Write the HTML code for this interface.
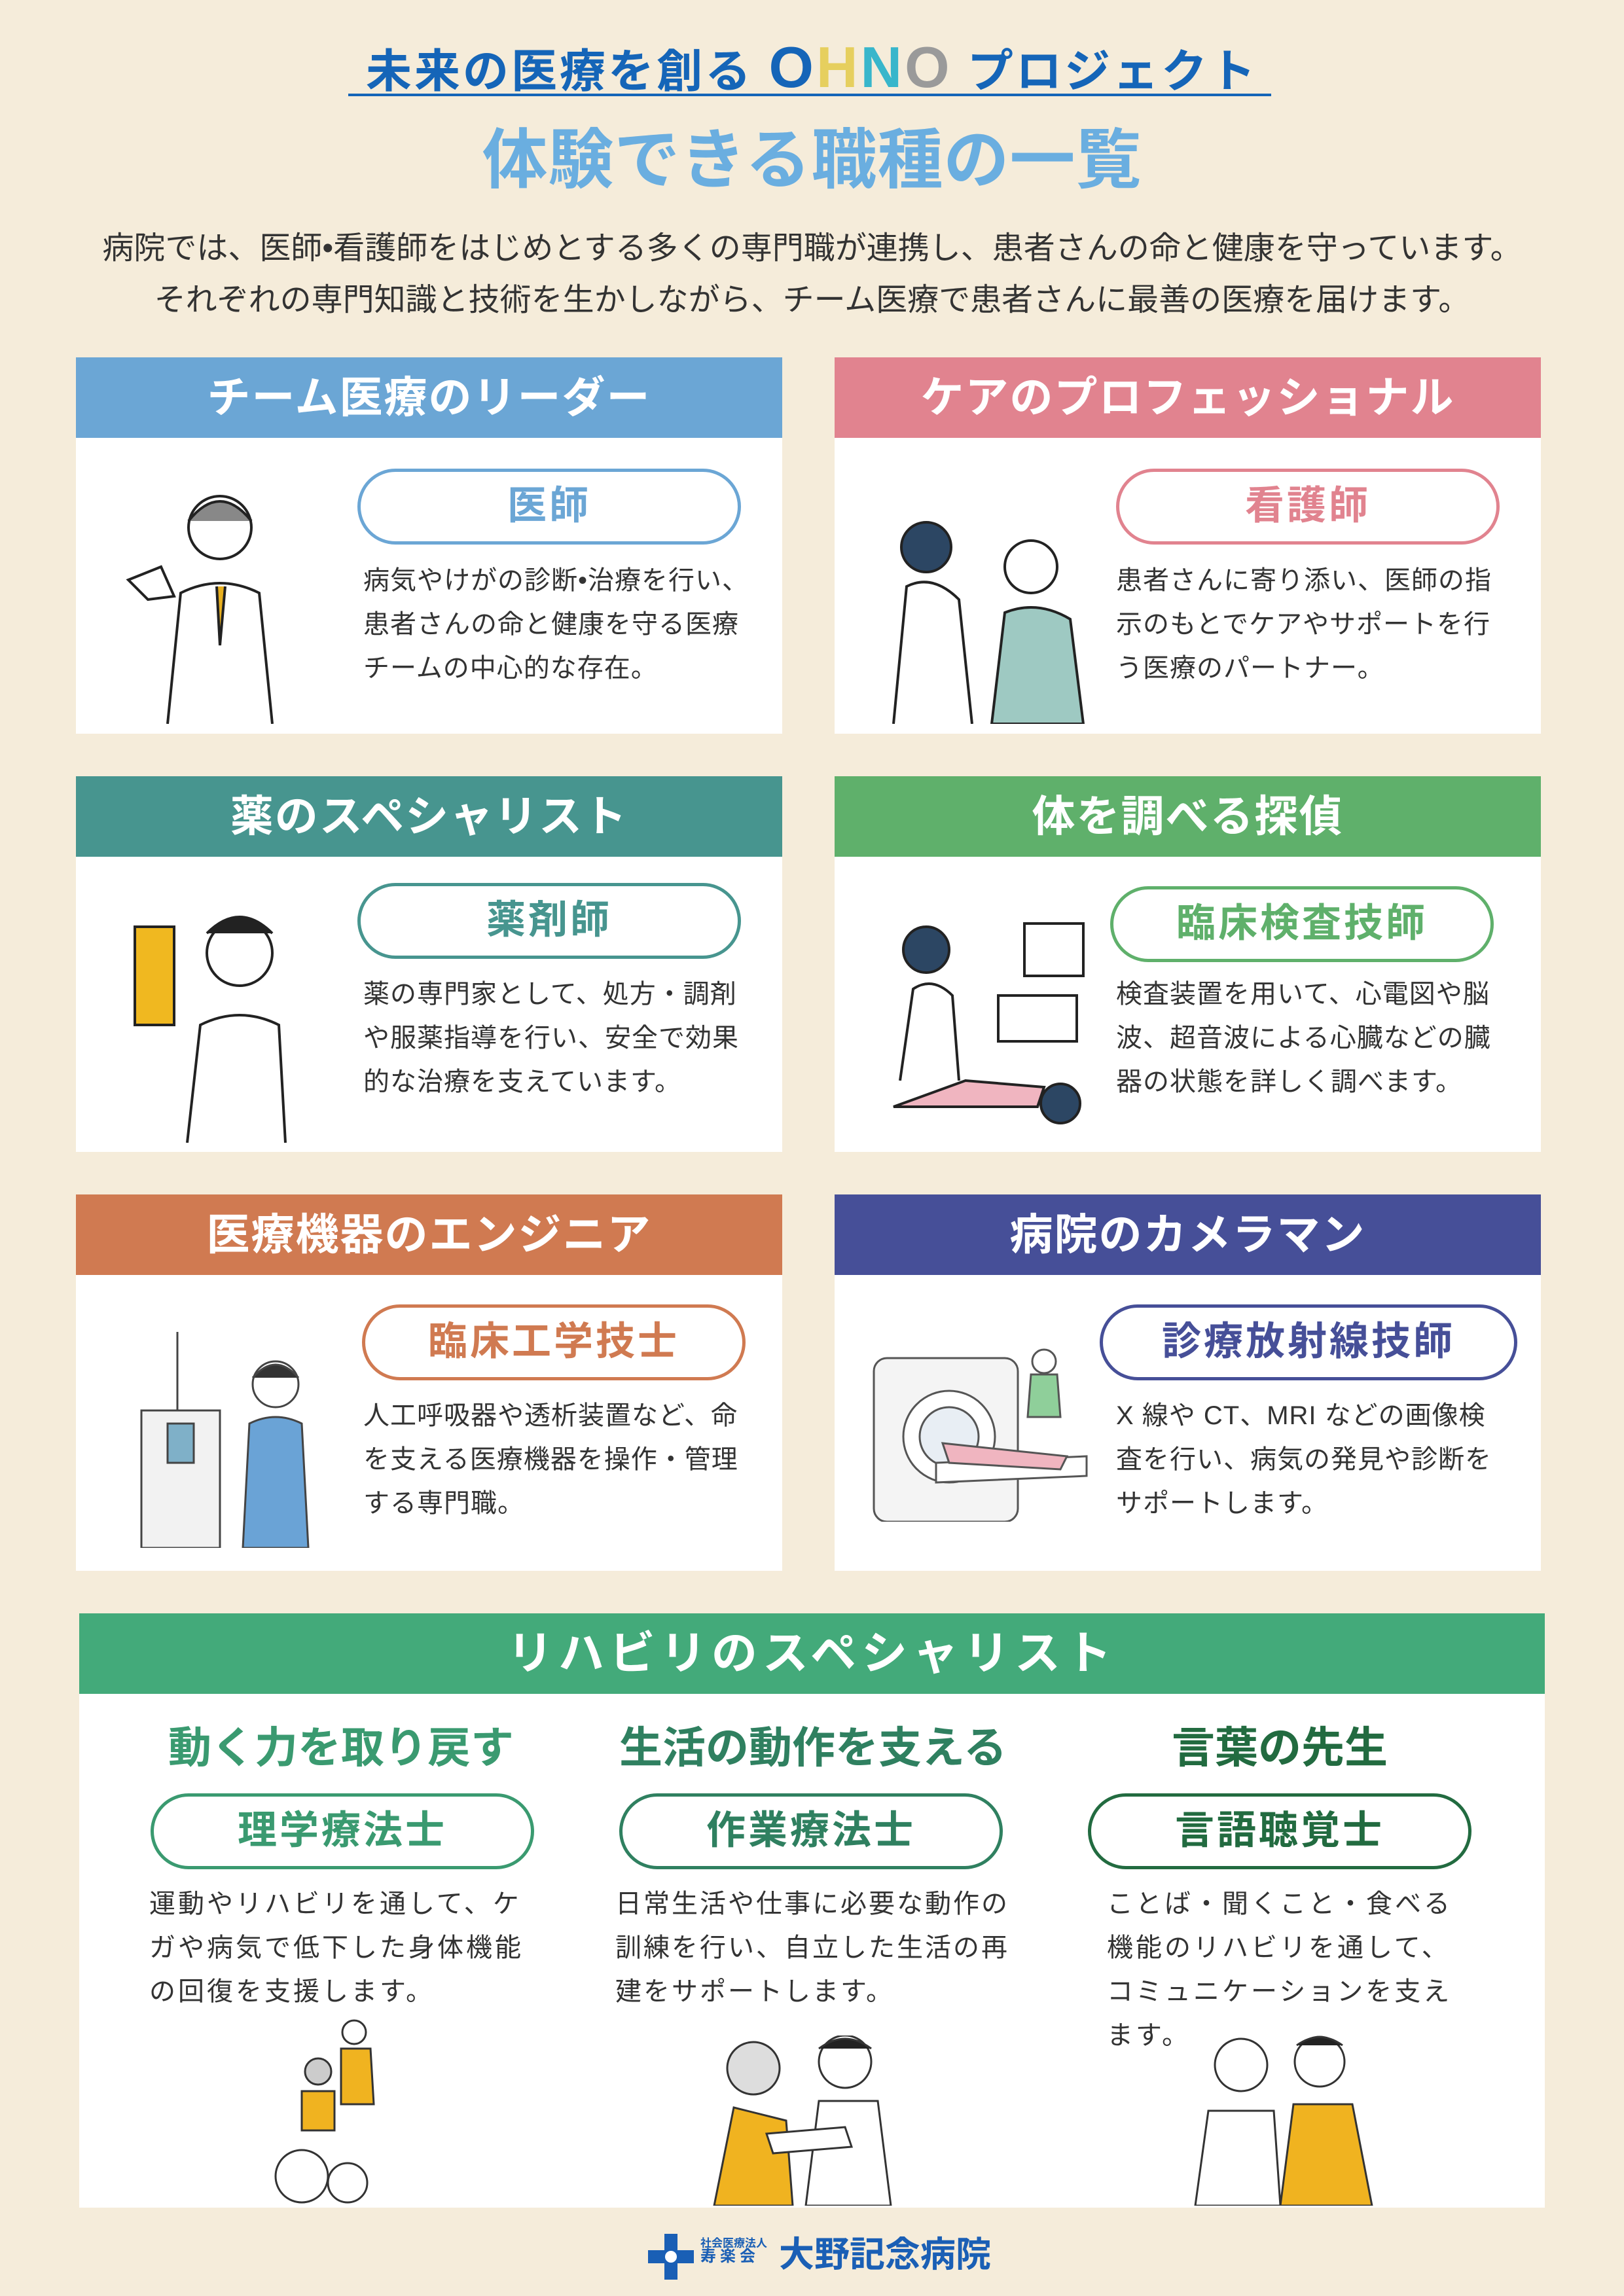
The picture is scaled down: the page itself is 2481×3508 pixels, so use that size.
<!DOCTYPE html>
<html><head><meta charset="utf-8"><style>
*{margin:0;padding:0;box-sizing:border-box}
body{width:2481px;height:3508px;background:#f5ecda;font-family:"Liberation Sans","Noto Sans CJK JP",sans-serif;position:relative;overflow:hidden;color:#333}
.a{position:absolute}
.card{position:absolute;background:#fff;width:1079px}
.hd{position:absolute;left:0;top:0;width:100%;height:123px;color:#fff;font-weight:700;font-size:66px;text-align:center;line-height:123px;letter-spacing:2px}
.pill{position:absolute;height:116px;border:5px solid;border-radius:58px;background:#fff;text-align:center;font-weight:700;font-size:60px;line-height:104px;letter-spacing:4px}
.desc{position:absolute;font-size:40px;line-height:67px;white-space:nowrap;color:#333;letter-spacing:1px}
.sub{position:absolute;font-weight:700;font-size:66px;text-align:center;white-space:nowrap}
svg.il{position:absolute}
</style></head><body>

<div class="a" style="left:0;width:2481px;top:60px;text-align:center;font-weight:700;font-size:70px;color:#1565b8;line-height:86px;letter-spacing:4px">未来の医療を創る <span style="font-size:88px">O</span><span style="font-size:88px;color:#e6cf5e">H</span><span style="font-size:88px;color:#38b6cb">N</span><span style="font-size:88px;color:#9a9a9a">O</span> プロジェクト</div>
<div class="a" style="left:532px;top:143px;width:1410px;height:4px;background:#1565b8"></div>
<div class="a" style="left:0;width:2481px;top:180px;text-align:center;font-weight:700;font-size:100px;color:#6aaee0;line-height:130px;letter-spacing:1px">体験できる職種の一覧</div>
<div class="a" style="left:0;width:2481px;top:340px;text-align:center;font-size:48px;line-height:79px;color:#333;letter-spacing:0px">病院では、医師•看護師をはじめとする多くの専門職が連携し、患者さんの命と健康を守っています。<br>それぞれの専門知識と技術を生かしながら、チーム医療で患者さんに最善の医療を届けます。</div>

<!-- Row 1 -->
<div class="card" style="left:116px;top:546px;height:575px">
 <div class="hd" style="background:#6ba6d5">チーム医療のリーダー</div>
 <div class="pill" style="left:430px;top:170px;width:586px;border-color:#6ba6d5;color:#6ba6d5">医師</div>
 <div class="desc" style="left:439px;top:308px">病気やけがの診断•治療を行い、<br>患者さんの命と健康を守る医療<br>チームの中心的な存在。</div>
 <svg class="il" style="left:70px;top:190px" width="300" height="370" viewBox="0 0 300 370" fill="none" stroke="#222" stroke-width="4"><circle cx="150" cy="70" r="48" fill="#fff"/><path d="M102 60 Q150 0 198 60" fill="#888"/><path d="M70 370 L90 170 Q150 140 210 170 L230 370" fill="#fff"/><path d="M145 160 L150 250 L158 160" fill="#e8b020"/><path d="M10 150 L60 130 L80 175 L40 180Z" fill="#fff"/></svg>
</div>
<div class="card" style="left:1275px;top:546px;height:575px">
 <div class="hd" style="background:#e1838f">ケアのプロフェッショナル</div>
 <div class="pill" style="left:430px;top:170px;width:586px;border-color:#e1838f;color:#e1838f">看護師</div>
 <div class="desc" style="left:430px;top:308px">患者さんに寄り添い、医師の指<br>示のもとでケアやサポートを行<br>う医療のパートナー。</div>
 <svg class="il" style="left:60px;top:230px" width="340" height="330" viewBox="0 0 340 330" fill="none" stroke="#222" stroke-width="4"><circle cx="80" cy="60" r="38" fill="#2c4663"/><path d="M30 330 L50 120 Q90 100 130 140 L150 330" fill="#fff"/><circle cx="240" cy="90" r="40" fill="#fff"/><path d="M180 330 L200 160 Q250 140 300 170 L320 330Z" fill="#9ec9c2"/></svg>
</div>

<!-- Row 2 -->
<div class="card" style="left:116px;top:1186px;height:574px">
 <div class="hd" style="background:#47958f">薬のスペシャリスト</div>
 <div class="pill" style="left:430px;top:163px;width:586px;border-color:#47958f;color:#47958f">薬剤師</div>
 <div class="desc" style="left:439px;top:300px">薬の専門家として、処方・調剤<br>や服薬指導を行い、安全で効果<br>的な治療を支えています。</div>
 <svg class="il" style="left:60px;top:190px" width="300" height="370" viewBox="0 0 300 370" fill="none" stroke="#222" stroke-width="4"><rect x="30" y="40" width="60" height="150" fill="#f0b820"/><circle cx="190" cy="80" r="50" fill="#fff"/><path d="M140 50 Q190 0 240 50" fill="#222"/><path d="M110 370 L130 190 Q190 160 250 190 L260 370" fill="#fff"/></svg>
</div>
<div class="card" style="left:1275px;top:1186px;height:574px">
 <div class="hd" style="background:#5fb06b">体を調べる探偵</div>
 <div class="pill" style="left:421px;top:168px;width:586px;border-color:#5fb06b;color:#5fb06b">臨床検査技師</div>
 <div class="desc" style="left:430px;top:300px">検査装置を用いて、心電図や脳<br>波、超音波による心臓などの臓<br>器の状態を詳しく調べます。</div>
 <svg class="il" style="left:80px;top:215px" width="310" height="330" viewBox="0 0 310 330" fill="none" stroke="#222" stroke-width="4"><circle cx="60" cy="50" r="35" fill="#2c4663"/><path d="M20 250 L40 110 Q70 90 100 120 L110 250" fill="#fff"/><rect x="210" y="10" width="90" height="80" fill="#fff"/><rect x="170" y="120" width="120" height="70" fill="#fff"/><path d="M10 290 L230 290 L240 260 L120 250Z" fill="#f0b5c0"/><circle cx="265" cy="285" r="30" fill="#2c4663"/></svg>
</div>

<!-- Row 3 -->
<div class="card" style="left:116px;top:1825px;height:575px">
 <div class="hd" style="background:#d07a51">医療機器のエンジニア</div>
 <div class="pill" style="left:437px;top:168px;width:586px;border-color:#d07a51;color:#d07a51">臨床工学技士</div>
 <div class="desc" style="left:439px;top:305px">人工呼吸器や透析装置など、命<br>を支える医療機器を操作・管理<br>する専門職。</div>
 <svg class="il" style="left:95px;top:210px" width="270" height="330" viewBox="0 0 270 330" fill="none" stroke="#444" stroke-width="3"><rect x="5" y="120" width="120" height="210" fill="#f2f2f2"/><rect x="45" y="140" width="40" height="60" fill="#7fb0c8"/><line x1="60" y1="0" x2="60" y2="120"/><circle cx="210" cy="80" r="35" fill="#fff"/><path d="M175 70 Q210 30 245 70" fill="#333"/><path d="M160 330 L170 140 Q210 120 250 140 L260 330Z" fill="#6aa3d6"/></svg>
</div>
<div class="card" style="left:1275px;top:1825px;height:575px">
 <div class="hd" style="background:#464f98">病院のカメラマン</div>
 <div class="pill" style="left:405px;top:168px;width:638px;border-color:#464f98;color:#464f98">診療放射線技師</div>
 <div class="desc" style="left:430px;top:305px">X 線や CT、MRI などの画像検<br>査を行い、病気の発見や診断を<br>サポートします。</div>
 <svg class="il" style="left:55px;top:230px" width="350" height="270" viewBox="0 0 350 270" fill="none" stroke="#555" stroke-width="3"><rect x="5" y="20" width="220" height="250" rx="20" fill="#f4f4f4"/><circle cx="120" cy="140" r="70" fill="#fff"/><circle cx="120" cy="140" r="45" fill="#e8eef4"/><path d="M100 180 L330 170 L330 200 L100 210Z" fill="#fff"/><path d="M110 150 L300 170 L290 190 L120 180Z" fill="#f0b5c0"/><circle cx="265" cy="25" r="18" fill="#fff"/><path d="M245 45 L285 45 L290 110 L240 110Z" fill="#8fcf9a"/></svg>
</div>

<!-- Rehab -->
<div class="card" style="left:121px;top:2465px;width:2239px;height:908px">
 <div class="hd" style="background:#43aa7a;font-size:70px;letter-spacing:8px">リハビリのスペシャリスト</div>
 <div class="sub" style="left:107px;width:586px;top:160px;color:#3a9a70;line-height:90px">動く力を取り戻す</div>
 <div class="sub" style="left:825px;width:586px;top:160px;color:#2f8060;line-height:90px">生活の動作を支える</div>
 <div class="sub" style="left:1541px;width:586px;top:160px;color:#226b40;line-height:90px">言葉の先生</div>
 <div class="pill" style="left:109px;top:275px;width:586px;border-color:#3a9a70;color:#3a9a70">理学療法士</div>
 <div class="pill" style="left:825px;top:275px;width:586px;border-color:#2f8060;color:#2f8060">作業療法士</div>
 <div class="pill" style="left:1541px;top:275px;width:586px;border-color:#226b40;color:#226b40">言語聴覚士</div>
 <div class="desc" style="left:107px;top:411px;letter-spacing:4px">運動やリハビリを通して、ケ<br>ガや病気で低下した身体機能<br>の回復を支援します。</div>
 <div class="desc" style="left:819px;top:411px;letter-spacing:3px">日常生活や仕事に必要な動作の<br>訓練を行い、自立した生活の再<br>建をサポートします。</div>
 <div class="desc" style="left:1570px;top:411px;letter-spacing:4px">ことば・聞くこと・食べる<br>機能のリハビリを通して、<br>コミュニケーションを支え<br>ます。</div>
 <svg class="il" style="left:260px;top:620px" width="230" height="290" viewBox="0 0 230 290" fill="none" stroke="#333" stroke-width="3"><circle cx="160" cy="20" r="18" fill="#fff"/><path d="M140 45 L185 45 L190 130 L140 130Z" fill="#f0b320"/><circle cx="105" cy="80" r="20" fill="#ccc"/><path d="M80 110 L130 110 L130 170 L80 170Z" fill="#f0b320"/><circle cx="80" cy="240" r="40"/><circle cx="150" cy="250" r="30"/></svg>
 <svg class="il" style="left:950px;top:645px" width="300" height="260" viewBox="0 0 300 260" fill="none" stroke="#333" stroke-width="3"><circle cx="80" cy="50" r="40" fill="#ddd"/><path d="M20 260 L50 110 L130 130 L140 260Z" fill="#f0b320"/><circle cx="220" cy="40" r="40" fill="#fff"/><path d="M180 20 Q220 -10 260 20" fill="#222"/><path d="M160 260 L180 100 L270 100 L290 260Z" fill="#fff"/><path d="M100 150 L220 140 L230 170 L110 180Z" fill="#fff"/></svg>
 <svg class="il" style="left:1665px;top:640px" width="320" height="265" viewBox="0 0 320 265" fill="none" stroke="#333" stroke-width="3"><circle cx="110" cy="50" r="40" fill="#fff"/><path d="M40 265 L60 120 L160 120 L170 265Z" fill="#fff"/><circle cx="230" cy="45" r="38" fill="#fff"/><path d="M195 20 Q230 -5 265 20" fill="#222"/><path d="M170 265 L190 110 L280 110 L310 265Z" fill="#f0b320"/></svg>
</div>

<!-- Logo -->
<svg class="a" style="left:985px;top:3408px" width="80" height="80" viewBox="0 0 80 80"><path d="M30 5 h20 v25 h25 v20 h-25 v25 h-20 v-25 h-25 v-20 h25z" fill="#1a5fb5"/><circle cx="40" cy="40" r="9" fill="#fff"/></svg>
<div class="a" style="left:1070px;top:3418px;font-size:17px;font-weight:700;color:#1a5fb5;line-height:20px">社会医療法人<br><span style="font-size:24px;letter-spacing:6px">寿楽会</span></div>
<div class="a" style="left:1190px;top:3410px;font-size:54px;font-weight:700;color:#1a5fb5;line-height:70px">大野記念病院</div>
</body></html>
